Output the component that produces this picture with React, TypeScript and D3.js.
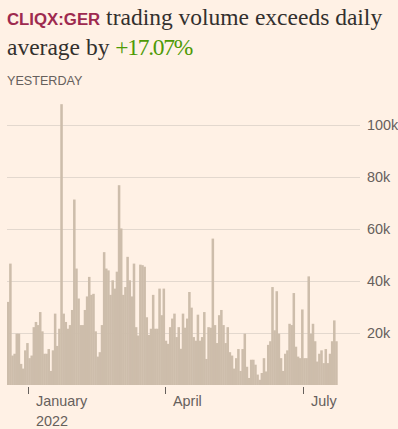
import { useEffect } from "react"
import * as d3 from "d3"

// daily trading volume, thousands of shares, one value per trading day from 20 Dec 2021
const volumes = [
  31.9, 46.6, 11.3, 12, 19.7, 19.7, 8.1, 6.3, 13.3, 16.1, 10.3, 11.3, 22.2, 24.2, 23, 28, 20.6, 12, 12, 13.8,
  5.4, 13.3, 27.4, 15, 21.6, 107.8, 27.4, 24.2, 21.6, 23, 28.8, 71.2, 44.7, 33.2, 23, 23, 28.8, 34, 41.5, 34.6,
  35, 20.6, 10.9, 12.6, 23, 51, 44.7, 44, 34.6, 40.2, 37, 43.5, 76.7, 60.1, 34.6, 37.6, 49.2, 40.2, 34, 46.6,
  22.2, 19,
  46.2, 46, 45.4, 26, 19.2, 21.6, 34.6, 21.6, 21.6, 37, 26.8, 37, 17, 15.8, 22.2, 25.5, 27.4, 18.4, 22.2, 13.9,
  27.4, 22, 25.5, 35.7, 29.7, 18.4, 17, 27, 17, 18.4, 28, 10, 22.2, 22, 56.2, 23, 16.1, 26.8, 28.8, 23,
  16.1, 22.2, 12.6, 11.3, 6.3, 10.3, 13.8, 5.4, 13.8, 19.7, 7, 2.7, 9.7, 9.7, 7.8, 4, 2,
  4.6, 10.3, 5.2, 15.4, 16.8, 37.6, 21, 36, 19.7, 10.3, 5.4, 12, 13.3, 23.5, 23, 35.3, 14.7, 10.9, 10.3, 29,
  10.3, 10.3, 41.7, 19.7, 23.5, 16.8, 9, 12, 13.3, 8.4, 13.8, 8.4, 12, 16.8, 24.8, 16.8,
]
const firstDay = new Date(2021, 11, 20)

const yTicks = [20, 40, 60, 80, 100]
const xTickMonths = [
  { year: 2022, month: 0, label: ["January", "2022"] },
  { year: 2022, month: 3, label: ["April"] },
  { year: 2022, month: 6, label: ["July"] },
]

// trading days (weekdays) for each value
const days: Date[] = []
{
  const d = new Date(firstDay)
  while (days.length < volumes.length) {
    if (d.getDay() !== 0 && d.getDay() !== 6) days.push(new Date(d))
    d.setDate(d.getDate() + 1)
  }
}

const W = 398
const H = 429
const sans = "'Liberation Sans', Arial, sans-serif"
const serif = "'Liberation Serif', 'Times New Roman', serif"

export default function App() {
  useEffect(() => {
    document.body.style.margin = "0"
    document.body.style.background = "#fff1e5"
  }, [])

  const x = d3
    .scaleBand<number>()
    .domain(d3.range(volumes.length))
    .range([7, 337.3])
    .padding(0)
  const y = d3.scaleLinear().domain([0, 100]).range([385, 124.5])

  const ticks = xTickMonths.map((m) => {
    const i = days.findIndex((d) => d.getFullYear() === m.year && d.getMonth() === m.month)
    return { pos: Math.round(x(i) || 0) + 0.5, label: m.label }
  })

  return (
    <svg width={W} height={H} style={{ display: "block" }}>
      <rect width={W} height={H} fill="#fff1e5" />

      <text x={7} y={25} fontSize={23.5} fill="#33302e" fontFamily={serif}>
        <tspan fontFamily={sans} fontWeight="bold" fontSize={16.8} fill="#9e2a4f">
          CLIQX:GER
        </tspan>
        <tspan> trading volume exceeds daily</tspan>
      </text>
      <text x={7} y={55} fontSize={23.5} fill="#33302e" fontFamily={serif}>
        average by{" "}
        <tspan fill="#4e9a06" letterSpacing={-1.3}>
          +17.07%
        </tspan>
      </text>
      <text x={7} y={85} fontSize={12.6} fill="#66605c" fontFamily={sans}>
        YESTERDAY
      </text>

      {yTicks.map((t) => (
        <g key={t}>
          <line x1={7} x2={360} y1={Math.round(y(t)) + 0.5} y2={Math.round(y(t)) + 0.5} stroke="#e3d8ce" />
          <text x={367} y={y(t)} dy="0.35em" fontSize={14.4} fill="#66605c" fontFamily={sans}>
            {t}k
          </text>
        </g>
      ))}

      {volumes.map((v, i) => (
        <rect
          key={i}
          x={x(i)}
          y={y(v)}
          width={x.bandwidth() + 0.4}
          height={y(0) - y(v)}
          fill="#cdbdab"
        />
      ))}

      {ticks.map((t, i) => (
        <g key={i}>
          <line x1={t.pos} x2={t.pos} y1={387} y2={394} stroke="#66605c" />
          {t.label.map((l, j) => (
            <text key={j} x={t.pos + 7.5} y={406 + j * 20} fontSize={14.4} fill="#66605c" fontFamily={sans}>
              {l}
            </text>
          ))}
        </g>
      ))}
    </svg>
  )
}
